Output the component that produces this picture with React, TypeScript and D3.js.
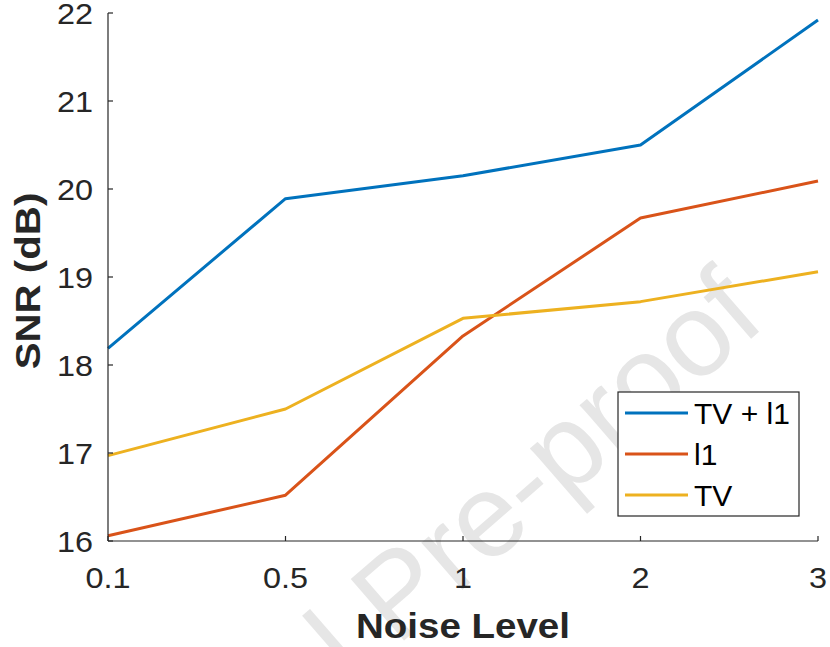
import React from "react";
import * as d3 from "d3";

const categories = ["0.1", "0.5", "1", "2", "3"];
const seriesNames = ["TV + l1", "l1", "TV"];
const tvl1 = [18.19, 19.89, 20.15, 20.5, 21.92];
const l1 = [16.06, 16.52, 18.33, 19.67, 20.09];
const tv = [16.97, 17.5, 18.53, 18.72, 19.06];
const yTicks = [16, 17, 18, 19, 20, 21, 22];
const colors = ["#0072BD", "#D95319", "#EDB120"];

const W = 830, H = 647;
const left = 108, right = 818, top = 13, bottom = 541;

export default function App() {
  const x = d3.scalePoint<string>().domain(categories).range([left, right]);
  const y = d3.scaleLinear().domain([16, 22]).range([bottom, top]);
  const line = d3.line<number>().x((_, i) => x(categories[i])!).y(d => y(d));
  const series = [tvl1, l1, tv];
  const font = "'Liberation Sans', Arial, Helvetica, sans-serif";
  const legX = 618, legY = 392, legW = 181, legH = 124;
  return (
    <svg width={W} height={H} style={{ position: "absolute", left: 0, top: 0 }} fontFamily={font}>
      <rect width={W} height={H} fill="#fff" />
      <text
        transform={`translate(768,324) rotate(-41)`}
        textAnchor="end"
        fontSize={118}
        fill="#e6e6e6"
      >
        Journal Pre-proof
      </text>
      {series.map((s, i) => (
        <path key={i} d={line(s)!} fill="none" stroke={colors[i]} strokeWidth={3} strokeLinejoin="round" />
      ))}
      <line x1={left} x2={left} y1={top} y2={bottom} stroke="#262626" strokeWidth={1.2} />
      <line x1={left} x2={right} y1={bottom} y2={bottom} stroke="#262626" strokeWidth={1.2} />
      {yTicks.map(t => (
        <g key={t}>
          <line x1={left} x2={left + 5} y1={y(t)} y2={y(t)} stroke="#262626" strokeWidth={1.2} />
          <text transform={`translate(${left - 15},${y(t) + 11}) scale(1.08,1)`} textAnchor="end" fontSize={30} fill="#262626">{t}</text>
        </g>
      ))}
      {categories.map(c => (
        <g key={c}>
          <line x1={x(c)} x2={x(c)} y1={bottom} y2={bottom - 5} stroke="#262626" strokeWidth={1.2} />
          <text transform={`translate(${x(c)},${bottom + 47}) scale(1.08,1)`} textAnchor="middle" fontSize={30} fill="#262626">{c}</text>
        </g>
      ))}
      <text transform={`translate(463,638) scale(1.1,1)`} textAnchor="middle" fontSize={35} fontWeight="bold" fill="#262626">Noise Level</text>
      <text transform={`translate(40,281) rotate(-90) scale(1.15,1)`} textAnchor="middle" fontSize={35} fontWeight="bold" fill="#262626">SNR (dB)</text>
      <rect x={legX} y={legY} width={legW} height={legH} fill="#fff" stroke="#262626" strokeWidth={1.2} />
      {seriesNames.map((n, i) => (
        <g key={n}>
          <line x1={legX + 7} x2={legX + 70} y1={legY + 21 + i * 41} y2={legY + 21 + i * 41} stroke={colors[i]} strokeWidth={3} />
          <text x={legX + 76} y={legY + 21 + i * 41 + 11} fontSize={30} fill="#000">{n}</text>
        </g>
      ))}
    </svg>
  );
}
